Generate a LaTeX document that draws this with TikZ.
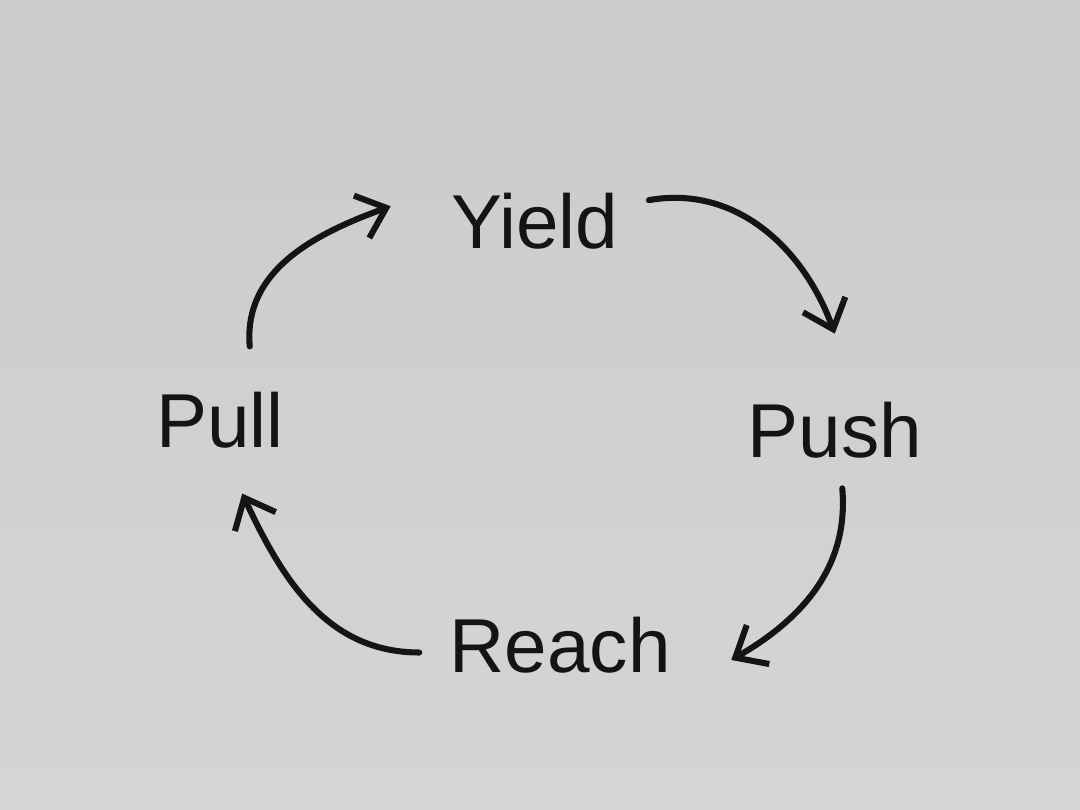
\documentclass[tikz,border=0pt]{standalone}
\usepackage{fontspec}
\setmainfont{Liberation Sans}
\usetikzlibrary{arrows.meta}
\definecolor{paper}{RGB}{204,203,202}
\definecolor{paperlow}{RGB}{214,213,212}
\definecolor{ink}{RGB}{20,20,20}
\begin{document}
\begin{tikzpicture}[
    word/.style ={inner sep = 0pt, text=ink, font=\fontsize{29}{34}\selectfont},
    cycle/.style ={draw=ink, line width=2.3pt, line cap=round,
                   -{Straight Barb[length=3.5mm,width=6mm,line width=2.3pt]}}]
   \useasboundingbox (0,0) rectangle (14.4,10.8);
   \shade[top color=paper, bottom color=paperlow] (0,0) rectangle (14.4,10.8);
   \node[word] (Y)  at (7.13,7.85)  {Yield};
   \node[word] (Ps) at (11.13,5.07) {Push};
   \node[word] (Re) at (7.47,2.2)   {Reach};
   \node[word] (Pl) at (2.93,5.2)   {Pull};
   \draw[cycle] ([xshift=4mm,yshift=-1mm]Y.north east) to [out=10, in=110]  ([yshift=9mm]Ps.north);
   \draw[cycle] ([xshift=1mm,yshift=-4mm]Ps.south) to [out=-85, in=30] ([xshift=8mm,yshift=-2mm]Re.east);
   \draw[cycle] ([xshift=-4mm,yshift=-1mm]Re.west) to [out=180, in=-65] ([xshift=3mm,yshift=-6mm]Pl.south);
   \draw[cycle] ([xshift=4mm,yshift=6mm]Pl.north) to [out=95, in=200] ([xshift=-8mm,yshift=2mm]Y.west);
 \end{tikzpicture}
\end{document}
